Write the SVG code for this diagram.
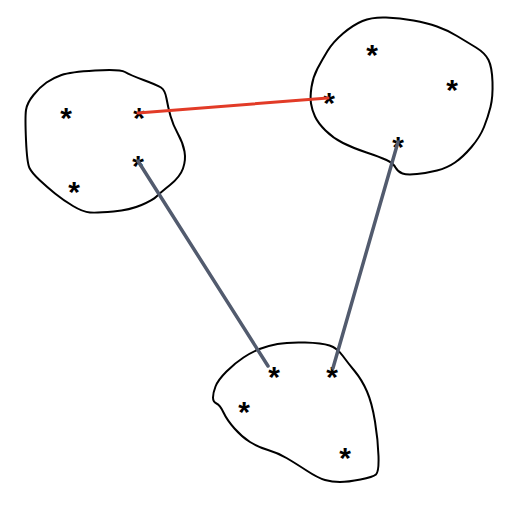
<svg xmlns="http://www.w3.org/2000/svg" width="519" height="511" viewBox="0 0 519 511">
<style>
.blob{fill:none;stroke:#000;stroke-width:2;stroke-linejoin:round}
.pt{font-family:"Liberation Sans",Arial,sans-serif;font-size:30px;font-weight:bold;fill:#000;text-anchor:middle}
.red{stroke:#e23b27;stroke-width:3;stroke-linecap:round;fill:none}
.gray{stroke:#525b6e;stroke-width:3.5;stroke-linecap:round;fill:none}
</style>
<rect width="519" height="511" fill="#fff"/>
<g id="cluster-left">
<path class="blob" d="M61.5,75 Q70,72 95,70.5 Q120,69 125,72 Q130,75 143.5,80 Q157,85 161,87.5 Q165,90 166.5,98.5 Q168,107 170.5,116 Q173,125 178,134 Q183,143 184.5,151.5 Q186,160 183,168.5 Q180,177 170,185 Q160,193 156.5,196.5 Q153,200 141.5,205 Q130,210 113.5,211.5 Q97,213 90,212.5 Q83,212 73,206 Q63,200 55,193.5 Q47,187 39.5,180 Q32,173 29.5,168 Q27,163 26,140 Q25,117 26,110 Q27,103 33.5,95 Q40,87 46.5,82.5 Q53,78 61.5,75 Z"/>
<text class="pt" x="66" y="127.5">*</text>
<text class="pt" x="139" y="127.5">*</text>
<text class="pt" x="138" y="175.5">*</text>
<text class="pt" x="74" y="201.5">*</text>
</g>
<g id="cluster-right">
<path class="blob" d="M362.5,21 Q372,17 386,17.5 Q400,18 413.5,20.5 Q427,23 437,26.5 Q447,30 457,36 Q467,42 476,47.5 Q485,53 488.5,60 Q492,67 492.5,82 Q493,97 490.5,107 Q488,117 484,127 Q480,137 471.5,147 Q463,157 455,162.5 Q447,168 437,170.5 Q427,173 417,174 Q407,175 402.5,173.5 Q398,172 395.5,167.5 Q393,163 386.5,160 Q380,157 366.5,152.5 Q353,148 343,143 Q333,138 325.5,130.5 Q318,123 315,116.5 Q312,110 311,103.5 Q310,97 311.5,87 Q313,77 317.5,68.5 Q322,60 327.5,51 Q333,42 343,33.5 Q353,25 362.5,21 Z"/>
<text class="pt" x="372" y="64.5">*</text>
<text class="pt" x="452" y="99.5">*</text>
<text class="pt" x="329" y="112.5">*</text>
<text class="pt" x="398" y="156.5">*</text>
</g>
<g id="cluster-bottom">
<path class="blob" d="M259.5,349 Q267,346 277.5,344 Q288,342 305,342.5 Q322,343 329.5,345.5 Q337,348 342.5,355.5 Q348,363 355,371.5 Q362,380 367,391.5 Q372,403 375,421.5 Q378,440 378.5,456 Q379,472 376,474.5 Q373,477 360.5,479.5 Q348,482 340,482 Q332,482 325,480 Q318,478 306.5,470.5 Q295,463 286.5,458 Q278,453 268,450 Q258,447 250,442 Q242,437 234.5,428.5 Q227,420 223.5,412.5 Q220,405 216.5,403.5 Q213,402 213,397.5 Q213,393 215.5,386.5 Q218,380 226.5,371.5 Q235,363 243.5,357.5 Q252,352 259.5,349 Z"/>
<text class="pt" x="274" y="386.5">*</text>
<text class="pt" x="332" y="386.5">*</text>
<text class="pt" x="244" y="421.5">*</text>
<text class="pt" x="345" y="467.5">*</text>
</g>
<g id="connectors">
<line class="red" x1="138" y1="113" x2="328" y2="98"/>
<line class="gray" x1="138" y1="161" x2="268" y2="366"/>
<line class="gray" x1="398" y1="142" x2="333" y2="368"/>
</g>
</svg>
